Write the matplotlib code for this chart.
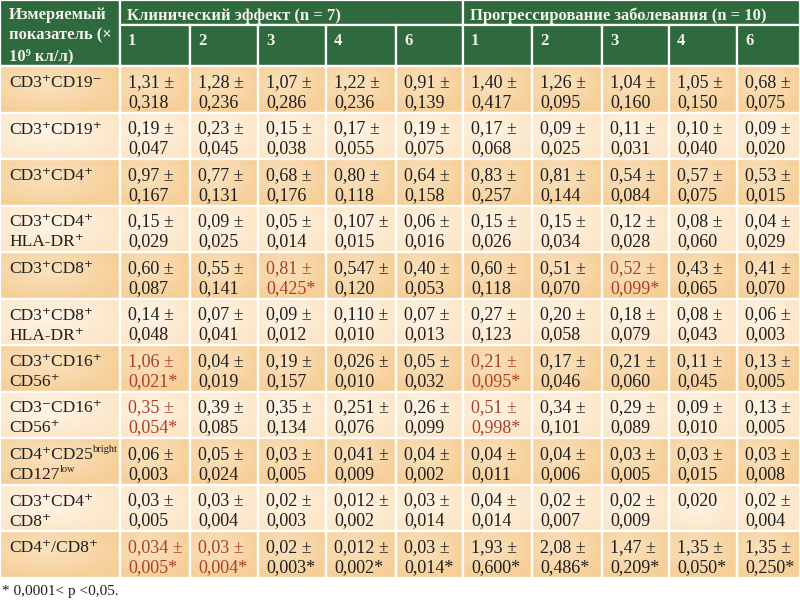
import matplotlib
matplotlib.use('Agg')
import numpy as np
import matplotlib.pyplot as plt
from matplotlib.patches import Rectangle
from matplotlib.colors import to_rgb

plt.rcParams['font.family'] = ['Liberation Serif', 'DejaVu Serif']

P = '\u207a'
M = '\u207b'

param_header = ['Измеряемый', 'показатель (×', '10\u2079 кл/л)']
groups = ['Клинический эффект (n = 7)', 'Прогрессирование заболевания (n = 10)']
time_points = ['1', '2', '3', '4', '6']

# строки подписей; (текст, верхний индекс) — индекс рисуется отдельно
row_labels = [
    ['CD3' + P + 'CD19' + M],
    ['CD3' + P + 'CD19' + P],
    ['CD3' + P + 'CD4' + P],
    ['CD3' + P + 'CD4' + P, 'HLA-DR' + P],
    ['CD3' + P + 'CD8' + P],
    ['CD3' + P + 'CD8' + P, 'HLA-DR' + P],
    ['CD3' + P + 'CD16' + P, 'CD56' + P],
    ['CD3' + M + 'CD16' + P, 'CD56' + P],
    [('CD4' + P + 'CD25', 'bright'), ('CD127', 'low')],
    ['CD3' + P + 'CD4' + P, 'CD8' + P],
    ['CD4' + P + '/CD8' + P],
]

# Клинический эффект (n = 7): средние и отклонения по точкам 1, 2, 3, 4, 6
effect_mean = [
    ['1,31', '1,28', '1,07', '1,22', '0,91'],
    ['0,19', '0,23', '0,15', '0,17', '0,19'],
    ['0,97', '0,77', '0,68', '0,80', '0,64'],
    ['0,15', '0,09', '0,05', '0,107', '0,06'],
    ['0,60', '0,55', '0,81', '0,547', '0,40'],
    ['0,14', '0,07', '0,09', '0,110', '0,07'],
    ['1,06', '0,04', '0,19', '0,026', '0,05'],
    ['0,35', '0,39', '0,35', '0,251', '0,26'],
    ['0,06', '0,05', '0,03', '0,041', '0,04'],
    ['0,03', '0,03', '0,02', '0,012', '0,03'],
    ['0,034', '0,03', '0,02', '0,012', '0,03'],
]
effect_sd = [
    ['0,318', '0,236', '0,286', '0,236', '0,139'],
    ['0,047', '0,045', '0,038', '0,055', '0,075'],
    ['0,167', '0,131', '0,176', '0,118', '0,158'],
    ['0,029', '0,025', '0,014', '0,015', '0,016'],
    ['0,087', '0,141', '0,425*', '0,120', '0,053'],
    ['0,048', '0,041', '0,012', '0,010', '0,013'],
    ['0,021*', '0,019', '0,157', '0,010', '0,032'],
    ['0,054*', '0,085', '0,134', '0,076', '0,099'],
    ['0,003', '0,024', '0,005', '0,009', '0,002'],
    ['0,005', '0,004', '0,003', '0,002', '0,014'],
    ['0,005*', '0,004*', '0,003*', '0,002*', '0,014*'],
]

# Прогрессирование заболевания (n = 10)
prog_mean = [
    ['1,40', '1,26', '1,04', '1,05', '0,68'],
    ['0,17', '0,09', '0,11', '0,10', '0,09'],
    ['0,83', '0,81', '0,54', '0,57', '0,53'],
    ['0,15', '0,15', '0,12', '0,08', '0,04'],
    ['0,60', '0,51', '0,52', '0,43', '0,41'],
    ['0,27', '0,20', '0,18', '0,08', '0,06'],
    ['0,21', '0,17', '0,21', '0,11', '0,13'],
    ['0,51', '0,34', '0,29', '0,09', '0,13'],
    ['0,04', '0,04', '0,03', '0,03', '0,03'],
    ['0,04', '0,02', '0,02', '0,020', '0,02'],
    ['1,93', '2,08', '1,47', '1,35', '1,35'],
]
prog_sd = [
    ['0,417', '0,095', '0,160', '0,150', '0,075'],
    ['0,068', '0,025', '0,031', '0,040', '0,020'],
    ['0,257', '0,144', '0,084', '0,075', '0,015'],
    ['0,026', '0,034', '0,028', '0,060', '0,029'],
    ['0,118', '0,070', '0,099*', '0,065', '0,070'],
    ['0,123', '0,058', '0,079', '0,043', '0,003'],
    ['0,095*', '0,046', '0,060', '0,045', '0,005'],
    ['0,998*', '0,101', '0,089', '0,010', '0,005'],
    ['0,011', '0,006', '0,005', '0,015', '0,008'],
    ['0,014', '0,007', '0,009', '', '0,004'],
    ['0,600*', '0,486*', '0,209*', '0,050*', '0,250*'],
]

# (строка, столбец 0..9) — значения, выделенные красным
red_cells = {(4, 2), (6, 0), (7, 0), (10, 0), (10, 1), (4, 7), (6, 5), (7, 5)}

footnote = '* 0,0001< p <0,05.'

GREEN = '#2e6a3d'
HEAD_TXT = '#f2f2ea'
TXT = '#1e1e1e'
RED = '#a8402b'
ORANGE = ('#f6cf98', '#fbe2bf')
LIGHT = ('#fce6c8', '#fff5e6')
FS = 13
FS_LABEL = 12.5

col_x = [0, 120, 190, 258, 326, 396, 463, 532, 602, 669, 737, 800]
head_y = [0, 25, 66]
row_h = 46.5

fig = plt.figure(figsize=(8, 6.04), dpi=100)
ax = fig.add_axes([0, 0, 1, 1])
ax.set_xlim(0, 800)
ax.set_ylim(604, 0)
ax.axis('off')
renderer = fig.canvas.get_renderer()


def shade(x0, y0, w, h, colors):
    edge = np.array(to_rgb(colors[0]))
    mid = np.array(to_rgb(colors[1]))
    yy, xx = np.mgrid[-1:1:30j, -1:1:30j]
    d = np.clip(np.sqrt((xx + 0.2) ** 2 + (yy + 0.2) ** 2) / 1.3, 0, 1)
    img = (1 - d)[..., None] * mid + d[..., None] * edge
    ax.imshow(img, extent=(x0, x0 + w, y0 + h, y0), interpolation='bilinear',
              aspect='auto', zorder=0)
    ax.add_patch(Rectangle((x0, y0), w, h, facecolor='none', edgecolor='white',
                           lw=1.6, zorder=1))


def cell(x0, y0, w, h, fc):
    ax.add_patch(Rectangle((x0, y0), w, h, facecolor=fc, edgecolor='white',
                           lw=1.6, zorder=1))


# шапка
cell(0, 0, col_x[1], head_y[2], GREEN)
for i, line in enumerate(param_header):
    ax.text(9, 19 + 20.5 * i, line, fontsize=12, fontweight='bold',
            color=HEAD_TXT, va='baseline')

for g, name in enumerate(groups):
    x0 = col_x[1 + 5 * g]
    x1 = col_x[6 + 5 * g]
    cell(x0, 0, x1 - x0, head_y[1], GREEN)
    ax.text(x0 + 7, 20, name, fontsize=12, fontweight='bold',
            color=HEAD_TXT, va='baseline')
    for k, tp in enumerate(time_points):
        a = col_x[1 + 5 * g + k]
        b = col_x[2 + 5 * g + k]
        cell(a, head_y[1], b - a, head_y[2] - head_y[1], GREEN)
        ax.text(a + 8, 45, tp, fontsize=12, fontweight='bold',
                color=HEAD_TXT, va='baseline')

# тело таблицы
for r, label in enumerate(row_labels):
    y0 = head_y[2] + r * row_h
    colors = ORANGE if r % 2 == 0 else LIGHT
    shade(0, y0, col_x[1], row_h, colors)
    for i, line in enumerate(label):
        yb = y0 + 21 + 20 * i
        if isinstance(line, tuple):
            t = ax.text(9, yb, line[0], fontsize=FS_LABEL, color=TXT,
                        va='baseline', zorder=3)
            bb = t.get_window_extent(renderer).transformed(ax.transData.inverted())
            ax.text(bb.x1 + 0.5, yb - 7, line[1], fontsize=7.5, color=TXT,
                    va='baseline', zorder=3)
        else:
            ax.text(9, yb, line, fontsize=FS_LABEL, color=TXT, va='baseline',
                    zorder=3)
    means = effect_mean[r] + prog_mean[r]
    sds = effect_sd[r] + prog_sd[r]
    for c in range(10):
        a = col_x[c + 1]
        b = col_x[c + 2]
        shade(a, y0, b - a, row_h, colors)
        color = RED if (r, c) in red_cells else TXT
        first = means[c] + (' ±' if sds[c] else '')
        ax.text(a + 8, y0 + 21, first, fontsize=FS, color=color,
                va='baseline', zorder=3)
        if sds[c]:
            ax.text(a + 8, y0 + 41, sds[c], fontsize=FS, color=color,
                    va='baseline', zorder=3)

ax.text(2, 595, footnote, fontsize=11, color=TXT, va='baseline')

ax.set_xlim(0, 800)
ax.set_ylim(604, 0)
fig.savefig('out.png', dpi=100, facecolor='white')
